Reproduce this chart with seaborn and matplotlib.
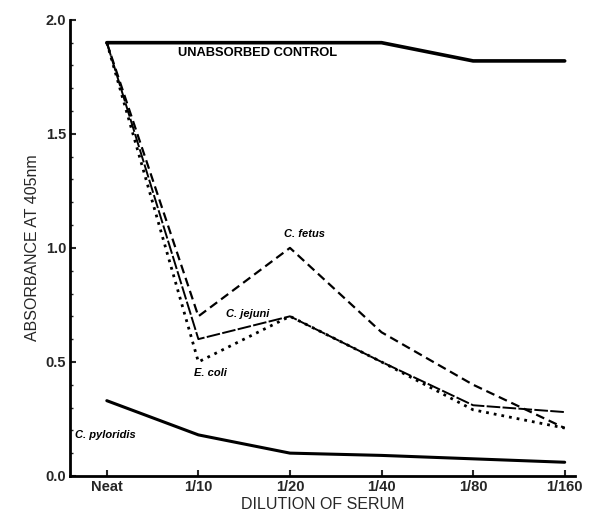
import matplotlib
matplotlib.use("Agg")
import matplotlib.pyplot as plt
import seaborn as sns
import pandas as pd
import numpy as np

dilutions = ["Neat", "1/10", "1/20", "1/40", "1/80", "1/160"]
unabsorbed_control = [1.90, 1.90, 1.90, 1.90, 1.82, 1.82]
c_fetus = [1.90, 0.70, 1.00, 0.63, 0.40, 0.21]
c_jejuni = [1.90, 0.60, 0.70, 0.50, 0.31, 0.28]
e_coli = [1.90, 0.50, 0.70, 0.50, 0.29, 0.21]
c_pyloridis = [0.33, 0.18, 0.10, 0.09, 0.075, 0.06]

series = {
    "UNABSORBED CONTROL": unabsorbed_control,
    "C. fetus": c_fetus,
    "C. jejuni": c_jejuni,
    "E. coli": e_coli,
    "C. pyloridis": c_pyloridis,
}
rows = []
for name, vals in series.items():
    for i, v in enumerate(vals):
        rows.append({"series": name, "pos": i, "dilution": dilutions[i], "value": v})
df = pd.DataFrame(rows)

sns.set_style("ticks")
plt.rcParams["font.family"] = ["Liberation Sans", "DejaVu Sans"]

fig = plt.figure(figsize=(6.05, 5.23), dpi=100)
ax = fig.add_axes([0.116, 0.09, 0.834, 0.872])

styles = {
    "UNABSORBED CONTROL": dict(lw=2.6, ls="-"),
    "C. fetus": dict(lw=1.6, ls=(0, (4, 2.2))),
    "C. jejuni": dict(lw=1.4, ls=(0, (7, 1.2))),
    "E. coli": dict(lw=2.0, ls=(0, (1, 1.8))),
    "C. pyloridis": dict(lw=2.2, ls="-"),
}
for name in series:
    sub = df[df["series"] == name]
    sns.lineplot(data=sub, x="pos", y="value", ax=ax, color="black",
                 linewidth=styles[name]["lw"], linestyle=styles[name]["ls"],
                 legend=False, errorbar=None)

ax.set_xlim(-0.40, 5.11)
ax.set_ylim(0, 2.0)
ax.set_xticks(range(len(dilutions)))
ax.set_xticklabels(dilutions, fontsize=10.5, fontweight="bold")
ax.set_yticks([0.0, 0.5, 1.0, 1.5, 2.0])
ax.set_yticks(np.arange(0.1, 2.0, 0.1), minor=True)
ax.set_yticklabels(["0.0", "0.5", "1.0", "1.5", "2.0"], fontsize=10.5, fontweight="bold")
ax.tick_params(axis="both", which="major", direction="in", length=4, width=1.5, pad=3)
ax.tick_params(axis="y", which="minor", direction="in", length=2, width=1)
ax.set_xlabel("DILUTION OF SERUM", fontsize=11.5, labelpad=2)
ax.set_ylabel("ABSORBANCE AT 405nm", fontsize=11.5, labelpad=4)
sns.despine(ax=ax)
for s in ["left", "bottom"]:
    ax.spines[s].set_linewidth(2)
    ax.spines[s].set_color("black")

tk = dict(fontsize=8, fontweight="bold", color="black")
ax.text(0.78, 1.855, "UNABSORBED CONTROL", ha="left", va="center",
        fontsize=9.3, fontweight="bold", color="black")
ax.text(1.93, 1.06, "C. fetus", ha="left", va="center", style="italic", **tk)
ax.text(1.30, 0.71, "C. jejuni", ha="left", va="center", style="italic", **tk)
ax.text(0.95, 0.45, "E. coli", ha="left", va="center", style="italic", **tk)
ax.text(-0.35, 0.18, "C. pyloridis", ha="left", va="center", style="italic", **tk)

fig.savefig("out.png", dpi=100)
